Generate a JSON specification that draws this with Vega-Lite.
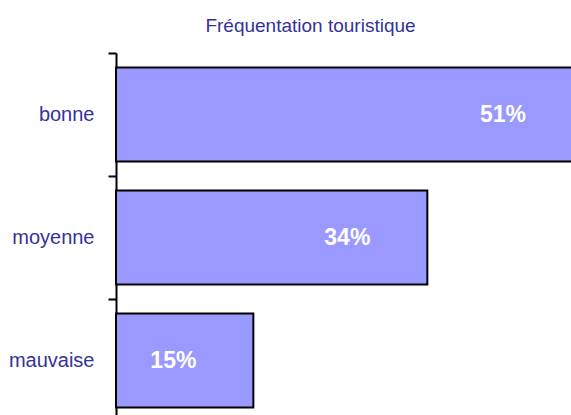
{
  "$schema": "https://vega.github.io/schema/vega-lite/v6.json",
  "autosize": "none",
  "width": 455,
  "height": 362,
  "padding": {"left": 116, "top": 53, "right": 0, "bottom": 0},
  "background": "white",
  "title": {
    "text": "Fréquentation touristique",
    "font": "Liberation Sans",
    "fontSize": 19,
    "fontWeight": "normal",
    "color": "#333399",
    "anchor": "middle",
    "dx": -33,
    "offset": 16
  },
  "config": {"view": {"stroke": null}},
  "data": {
    "values": [
      {"cat": "bonne", "value": 51, "label": "51%"},
      {"cat": "moyenne", "value": 34, "label": "34%"},
      {"cat": "mauvaise", "value": 15, "label": "15%"}
    ]
  },
  "encoding": {
    "y": {
      "field": "cat",
      "type": "nominal",
      "sort": null,
      "scale": {"range": [0, 369], "paddingInner": 0.236, "paddingOuter": 0.118},
      "axis": {
        "title": null,
        "domainColor": "black",
        "domainWidth": 2,
        "tickColor": "black",
        "tickWidth": 2,
        "tickSize": 8,
        "tickOffset": -61.5,
        "labelOffset": 61.5,
        "labelFont": "Liberation Sans",
        "labelFontSize": 20,
        "labelColor": "#333399",
        "labelPadding": 14
      }
    },
    "x": {
      "field": "value",
      "type": "quantitative",
      "scale": {"domain": [0, 51], "range": [0, 467], "nice": false},
      "axis": null
    }
  },
  "layer": [
    {
      "mark": {"type": "bar", "fill": "#9999FF", "stroke": "black", "strokeWidth": 2, "clip": false}
    },
    {
      "mark": {
        "type": "text",
        "align": "center",
        "baseline": "middle",
        "dx": -80,
        "font": "Liberation Sans",
        "fontSize": 23,
        "fontWeight": "bold",
        "fill": "white"
      },
      "encoding": {"text": {"field": "label"}}
    }
  ]
}
